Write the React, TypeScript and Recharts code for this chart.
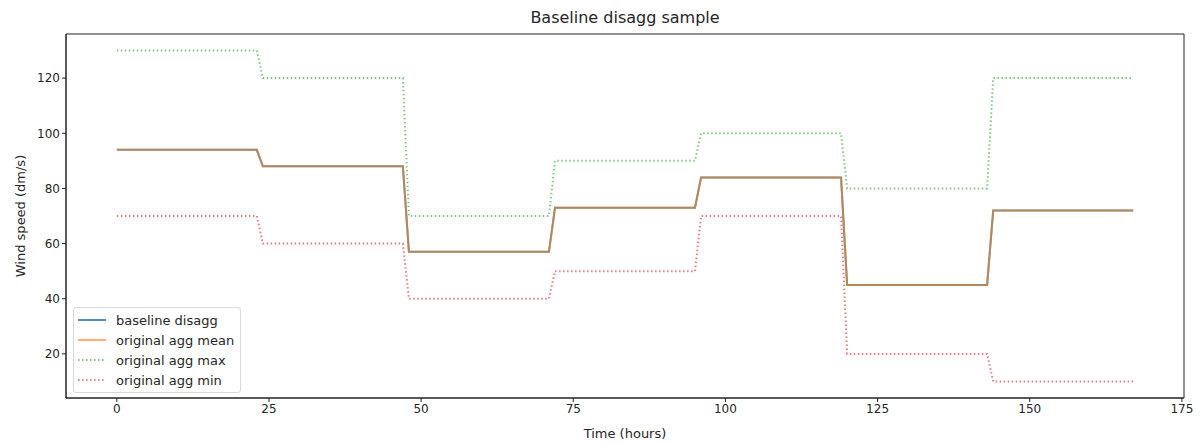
import * as React from "react";
import {
  LineChart,
  Line,
  XAxis,
  YAxis,
  Label,
  ReferenceArea,
} from "recharts";

// hours at the edges of each daily block
const hours = [0, 23, 24, 47, 48, 71, 72, 95, 96, 119, 120, 143, 144, 167];
const baselineDisagg = [94, 94, 88, 88, 57, 57, 73, 73, 84, 84, 45, 45, 72, 72];
const aggMean = [94, 94, 88, 88, 57, 57, 73, 73, 84, 84, 45, 45, 72, 72];
const aggMax = [130, 130, 120, 120, 70, 70, 90, 90, 100, 100, 80, 80, 120, 120];
const aggMin = [70, 70, 60, 60, 40, 40, 50, 50, 70, 70, 20, 20, 10, 10];

const xTicks = [0, 25, 50, 75, 100, 125, 150, 175];
const yTicks = [20, 40, 60, 80, 100, 120];
const xDomain = [-8.35, 175.35];
const yDomain = [4, 136];

const rows = hours.map((h, i) => ({
  hour: h,
  baseline: baselineDisagg[i],
  mean: aggMean[i],
  max: aggMax[i],
  min: aggMin[i],
}));

const FONT = "'DejaVu Sans', sans-serif";
const TEXT = "#262626";

const legendItems = [
  { name: "baseline disagg", color: "#1f77b4", opacity: 0.8, dash: undefined },
  { name: "original agg mean", color: "#ff7f0e", opacity: 0.6, dash: undefined },
  { name: "original agg max", color: "#2ca02c", opacity: 0.6, dash: "1.5 2.5" },
  { name: "original agg min", color: "#d62728", opacity: 0.6, dash: "1.5 2.5" },
];

const LegendBox = () => (
  <div
    style={{
      position: "absolute",
      left: 65,
      top: 299,
      border: "1px solid #d9d9d9",
      borderRadius: 3,
      background: "rgba(255,255,255,0.8)",
      padding: "2px 6px 2px 3px",
      fontFamily: FONT,
      fontSize: 13,
      color: TEXT,
    }}
  >
    {legendItems.map((it) => (
      <div key={it.name} style={{ display: "flex", alignItems: "center", height: 20 }}>
        <svg width={30} height={10} style={{ marginRight: 9 }}>
          <line
            x1={1}
            x2={29}
            y1={5}
            y2={5}
            stroke={it.color}
            strokeOpacity={it.opacity}
            strokeWidth={2}
            strokeDasharray={it.dash}
          />
        </svg>
        <span>{it.name}</span>
      </div>
    ))}
  </div>
);

const App: React.FunctionComponent = () => {
  return (
    <div style={{ position: "relative", width: 1186, height: 434 }}>
      <div
        style={{
          position: "absolute",
          left: 0,
          width: 1234,
          top: 0,
          textAlign: "center",
          fontFamily: FONT,
          fontSize: 16,
          color: TEXT,
        }}
      >
        Baseline disagg sample
      </div>
      <LineChart
        width={1186}
        height={434}
        data={rows}
        margin={{ top: 26, right: 10, bottom: 0, left: 8 }}
      >
        <XAxis
          dataKey="hour"
          type="number"
          domain={xDomain}
          ticks={xTicks}
          interval={0}
          allowDataOverflow
          height={44}
          tickSize={4}
          stroke="#222"
          tick={{ fill: TEXT, fontSize: 12, fontFamily: FONT }}
        >
          <Label
            content={({ viewBox }: any) => (
              <text
                x={viewBox.x + viewBox.width / 2}
                y={viewBox.y + 40}
                textAnchor="middle"
                fill={TEXT}
                fontSize={13}
                fontFamily={FONT}
              >
                Time (hours)
              </text>
            )}
          />
        </XAxis>
        <YAxis
          type="number"
          domain={yDomain}
          ticks={yTicks}
          interval={0}
          allowDataOverflow
          width={50}
          tickSize={4}
          stroke="#222"
          tick={{ fill: TEXT, fontSize: 12, fontFamily: FONT }}
        >
          <Label
            content={({ viewBox }: any) => (
              <text
                x={0}
                y={0}
                transform={`translate(${viewBox.x + 4}, ${viewBox.y + viewBox.height / 2}) rotate(-90)`}
                textAnchor="middle"
                dominantBaseline="central"
                fill={TEXT}
                fontSize={13}
                fontFamily={FONT}
              >
                Wind speed (dm/s)
              </text>
            )}
          />
        </YAxis>
        <ReferenceArea
          x1={xDomain[0]}
          x2={xDomain[1]}
          y1={yDomain[0]}
          y2={yDomain[1]}
          fill="none"
          stroke="#222"
          strokeWidth={1}
        />
        <Line
          dataKey="baseline"
          type="linear"
          stroke="#1f77b4"
          strokeOpacity={0.8}
          strokeWidth={2}
          dot={false}
          isAnimationActive={false}
        />
        <Line
          dataKey="mean"
          type="linear"
          stroke="#ff7f0e"
          strokeOpacity={0.6}
          strokeWidth={2}
          dot={false}
          isAnimationActive={false}
        />
        <Line
          dataKey="max"
          type="linear"
          stroke="#2ca02c"
          strokeOpacity={0.6}
          strokeWidth={2}
          strokeDasharray="1.5 2.5"
          dot={false}
          isAnimationActive={false}
        />
        <Line
          dataKey="min"
          type="linear"
          stroke="#d62728"
          strokeOpacity={0.6}
          strokeWidth={2}
          strokeDasharray="1.5 2.5"
          dot={false}
          isAnimationActive={false}
        />
      </LineChart>
      <LegendBox />
    </div>
  );
};

export default App;
